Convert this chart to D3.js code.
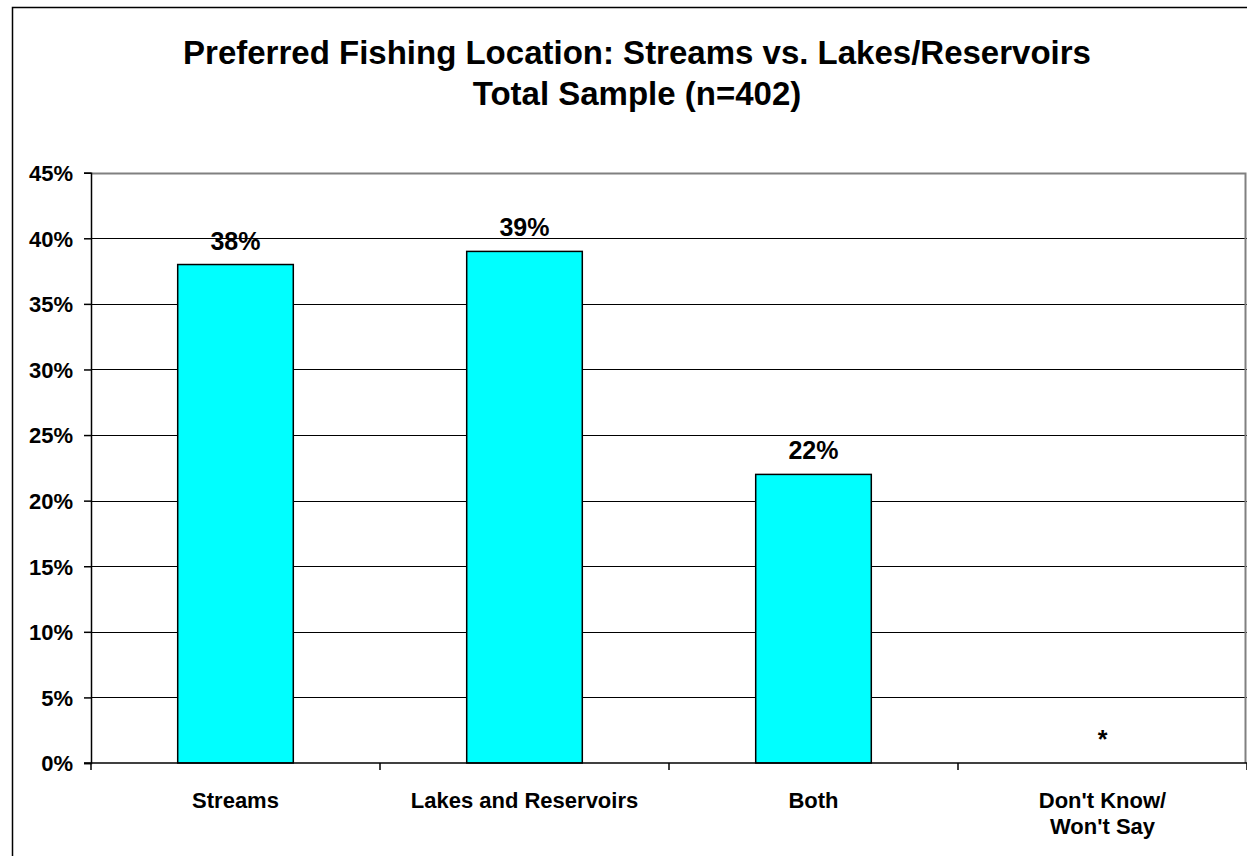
<!DOCTYPE html>
<html>
<head>
<meta charset="utf-8">
<script src="https://cdn.jsdelivr.net/npm/d3@7"></script>
<style>
  body { margin: 0; background: #fff; }
  text { font-family: "Liberation Sans", Arial, sans-serif; font-weight: bold; fill: #000; }
</style>
</head>
<body>
<div id="chart"></div>
<script>
const categories = ["Streams", "Lakes and Reservoirs", "Both", "Don't Know/\nWon't Say"];
const values = [38, 39, 22, 0];
const valueLabels = ["38%", "39%", "22%", "*"];
const yTicks = [0, 5, 10, 15, 20, 25, 30, 35, 40, 45];
const titleLines = ["Preferred Fishing Location: Streams vs. Lakes/Reservoirs", "Total Sample (n=402)"];

const W = 1247, H = 856;
const plot = {left: 91, right: 1247, top: 172.7, bottom: 763};

const svg = d3.select("#chart").append("svg")
    .attr("width", W)
    .attr("height", H);

// outer chart frame (runs past the window on right and bottom)
svg.append("rect")
    .attr("x", 12.5).attr("y", 7.5)
    .attr("width", W + 20).attr("height", H + 20)
    .attr("fill", "#fff")
    .attr("stroke", "#000")
    .attr("stroke-width", 1.5);

// title
svg.append("g").selectAll("text")
    .data(titleLines)
    .join("text")
    .attr("x", 637)
    .attr("y", (d, i) => 64 + i * 41)
    .attr("text-anchor", "middle")
    .style("font-size", "33px")
    .text(d => d);

const x = d3.scaleBand()
    .domain(categories)
    .range([plot.left, plot.right])
    .paddingInner(0.6)
    .paddingOuter(0.3);

const y = d3.scaleLinear()
    .domain([0, 45])
    .range([plot.bottom, plot.top]);

// gridlines
svg.append("g").selectAll("line")
    .data(yTicks.filter(d => d > 0 && d < 45))
    .join("line")
    .attr("x1", plot.left).attr("x2", plot.right)
    .attr("y1", d => Math.round(y(d)) + 0.5)
    .attr("y2", d => Math.round(y(d)) + 0.5)
    .attr("stroke", "#000")
    .attr("stroke-width", 1);

// plot area border top/right
svg.append("path")
    .attr("d", `M${plot.left},${Math.round(plot.top) + 0.5}H${plot.right - 1.5}V${plot.bottom}`)
    .attr("fill", "none")
    .attr("stroke", "#808080")
    .attr("stroke-width", 2);

// y axis
const yAxis = svg.append("g")
    .attr("transform", `translate(${plot.left},0)`)
    .call(d3.axisLeft(y).tickValues(yTicks).tickFormat(d => d + "%").tickSize(7).tickPadding(11));
yAxis.select(".domain").attr("stroke", "#000").attr("stroke-width", 1.5);
yAxis.selectAll(".tick line").attr("stroke", "#000").attr("stroke-width", 1.5);
yAxis.selectAll(".tick text")
    .style("font-size", "22px")
    .style("font-family", "'Liberation Sans', Arial, sans-serif")
    .attr("dy", "0.36em");

// bars
svg.append("g").selectAll("rect")
    .data(values)
    .join("rect")
    .attr("x", (d, i) => x(categories[i]))
    .attr("y", d => y(d))
    .attr("width", x.bandwidth())
    .attr("height", d => y(0) - y(d))
    .attr("fill", "#00ffff")
    .attr("stroke", "#000")
    .attr("stroke-width", 1.5);

// x axis line and ticks at category boundaries
svg.append("line")
    .attr("x1", plot.left - 7).attr("x2", plot.right)
    .attr("y1", plot.bottom).attr("y2", plot.bottom)
    .attr("stroke", "#000").attr("stroke-width", 1.5);

const step = x.step();
svg.append("g").selectAll("line")
    .data(d3.range(categories.length + 1))
    .join("line")
    .attr("x1", i => plot.left + i * step)
    .attr("x2", i => plot.left + i * step)
    .attr("y1", plot.bottom).attr("y2", plot.bottom + 7)
    .attr("stroke", "#000").attr("stroke-width", 1.5);

// value labels
svg.append("g").selectAll("text")
    .data(values)
    .join("text")
    .attr("x", (d, i) => x(categories[i]) + x.bandwidth() / 2)
    .attr("y", d => y(d) - 15)
    .attr("text-anchor", "middle")
    .style("font-size", "25px")
    .text((d, i) => valueLabels[i]);

// category labels
const catG = svg.append("g").selectAll("text")
    .data(categories)
    .join("text")
    .attr("x", d => x(d) + x.bandwidth() / 2)
    .attr("y", 808)
    .attr("text-anchor", "middle")
    .style("font-size", "22px");
catG.selectAll("tspan")
    .data(d => d.split("\n"))
    .join("tspan")
    .attr("x", function () { return d3.select(this.parentNode).attr("x"); })
    .attr("dy", (d, i) => i === 0 ? 0 : 25.5)
    .text(d => d);
</script>
</body>
</html>
